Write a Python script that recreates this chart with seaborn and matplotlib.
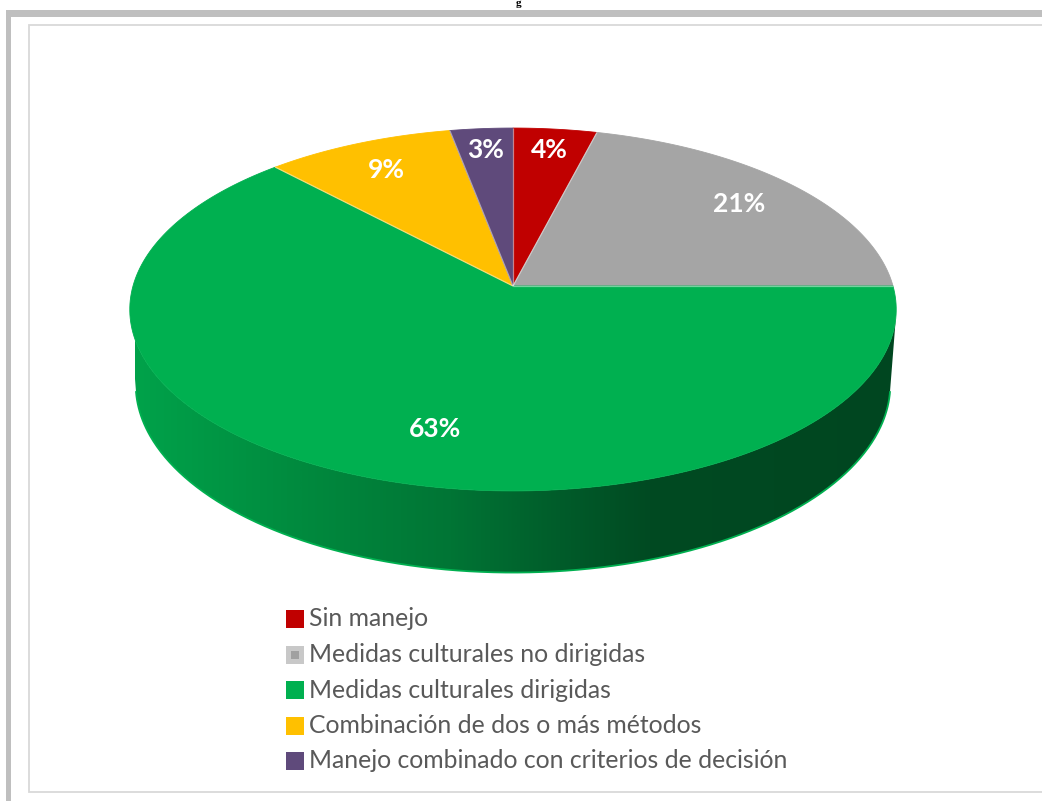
import numpy as np
import matplotlib
matplotlib.use("Agg")
import matplotlib.pyplot as plt
from matplotlib.patches import Polygon, Rectangle
from matplotlib.colors import LinearSegmentedColormap, to_rgb
import seaborn as sns

# Chart data
categories = [
    "Sin manejo",
    "Medidas culturales no dirigidas",
    "Medidas culturales dirigidas",
    "Combinación de dos o más métodos",
    "Manejo combinado con criterios de decisión",
]
shares = [4, 21, 63, 9, 3]
share_labels = ["4%", "21%", "63%", "9%", "3%"]
slice_colors = ["#C00000", "#A5A5A5", "#00B050", "#FFC000", "#5F4A7B"]

sns.set_theme(style="white")
palette = sns.color_palette(slice_colors)
plt.rcParams["font.family"] = ["Lato", "DejaVu Sans"]

W, H_PX = 1042, 801
fig = plt.figure(figsize=(W / 100, H_PX / 100), dpi=100)
ax = fig.add_axes([0, 0, 1, 1])
ax.set_xlim(0, W)
ax.set_ylim(H_PX, 0)
ax.axis("off")

# --- 3D pie geometry (perspective view of a tilted disc) ---
CX, CY = 513.0, 286.0     # screen position of the pie centre
SCALE = 380.0             # pixels per unit radius
TILT = np.radians(28.0)   # elevation of the viewer
DIST = 6.82               # camera distance in radius units
THICK = 0.225             # disc thickness in radius units


def project(theta, r=1.0, z=0.0):
    x = r * np.cos(theta)
    y = r * np.sin(theta)
    u = x
    v = y * np.sin(TILT) + z * np.cos(TILT)
    w = y * np.cos(TILT) - z * np.sin(TILT)
    f = DIST / (DIST + w)
    return CX + SCALE * u * f, CY - SCALE * v * f


# slice angles: start at 12 o'clock, run clockwise
fractions = np.array(shares, dtype=float) / np.sum(shares)
cum = np.concatenate([[0.0], np.cumsum(fractions)])
start_angles = np.pi / 2 - 2 * np.pi * cum[:-1]
end_angles = np.pi / 2 - 2 * np.pi * cum[1:]

# --- outer wall (only the part facing the viewer) ---
lim = np.arcsin(-1.0 / (DIST * np.cos(TILT)))
t_wall = np.linspace(np.pi - lim, 2 * np.pi + lim, 400)
top_x, top_y = project(t_wall, 1.0, 0.0)
bot_x, bot_y = project(t_wall, 1.0, -THICK)
wall_pts = np.column_stack([np.concatenate([top_x, bot_x[::-1]]),
                            np.concatenate([top_y, bot_y[::-1]])])
wall = Polygon(wall_pts, closed=True, facecolor="none", edgecolor="none")
ax.add_patch(wall)

stops = [(135, "#00A24A"), (300, "#008A3E"), (450, "#007535"),
         (560, "#005C2A"), (650, "#004A22"), (900, "#004620")]
x0, x1 = stops[0][0], stops[-1][0]
cmap = LinearSegmentedColormap.from_list(
    "wall", [((p - x0) / (x1 - x0), to_rgb(c)) for p, c in stops])
grad = np.linspace(0, 1, 512)[None, :]
img = ax.imshow(grad, cmap=cmap, aspect="auto",
                extent=(x0, x1, 600, 250), interpolation="bilinear", zorder=1)
img.set_clip_path(wall)
ax.plot(bot_x, bot_y, color="#00B050", lw=1.3, zorder=2)

# --- top face slices ---
apex = project(0.0, 0.0, 0.0)
for a0, a1, col in zip(start_angles, end_angles, palette):
    t = np.linspace(a0, a1, 200)
    px, py = project(t, 1.0, 0.0)
    pts = np.column_stack([np.concatenate([[apex[0]], px]),
                           np.concatenate([[apex[1]], py])])
    ax.add_patch(Polygon(pts, closed=True, facecolor=col,
                         edgecolor=col, lw=0.6, zorder=3))

# thin light separators between slices
for a0 in start_angles:
    ex, ey = project(a0, 1.0, 0.0)
    ax.plot([apex[0], ex], [apex[1], ey], color=(1, 1, 1, 0.45),
            lw=0.9, zorder=4, solid_capstyle="butt")

# --- value labels ---
label_radius = [0.85, 0.80, 0.75, 0.80, 0.85]
label_shift = [0.0, 0.0, 9.0, 0.0, 0.0]   # degrees, counter-clockwise
for a0, a1, txt, rr, sh in zip(start_angles, end_angles, share_labels,
                               label_radius, label_shift):
    mid = (a0 + a1) / 2 + np.radians(sh)
    lx, ly = project(mid, rr, 0.0)
    ax.text(lx, ly, txt, color="white", fontsize=19, fontweight="bold",
            ha="center", va="center", zorder=5)

# --- legend ---
leg_x, leg_y0, leg_dy, box = 286, 619, 35.5, 18
for i, (name, col) in enumerate(zip(categories, palette)):
    yc = leg_y0 + i * leg_dy
    if i == 1:
        ax.add_patch(Rectangle((leg_x, yc - box / 2), box, box,
                               facecolor="#C8C8C8", edgecolor="none", zorder=5))
        ax.add_patch(Rectangle((leg_x + 5, yc - box / 2 + 5), box - 10, box - 10,
                               facecolor="#A0A0A0", edgecolor="none", zorder=6))
    else:
        ax.add_patch(Rectangle((leg_x, yc - box / 2), box, box,
                               facecolor=col, edgecolor="none", zorder=5))
    ax.text(leg_x + box + 5, yc, name, color="#595959", fontsize=17.8,
            ha="left", va="center", zorder=5)

# --- frames ---
ax.add_patch(Rectangle((6, 10), W, 6.5, facecolor="#BFBFBF",
                       edgecolor="none", zorder=0))
ax.add_patch(Rectangle((6, 10), 5.2, H_PX, facecolor="#BFBFBF",
                       edgecolor="none", zorder=0))
ax.add_patch(Rectangle((29, 25), W, 767, facecolor="white",
                       edgecolor="#D9D9D9", lw=1.3, zorder=0))

# caption mark above the frame
ax.text(519, 5.5, "g", family="Liberation Serif", fontweight="bold",
        fontsize=8, ha="center", va="baseline", color="black")

fig.savefig("out.png", dpi=100)
